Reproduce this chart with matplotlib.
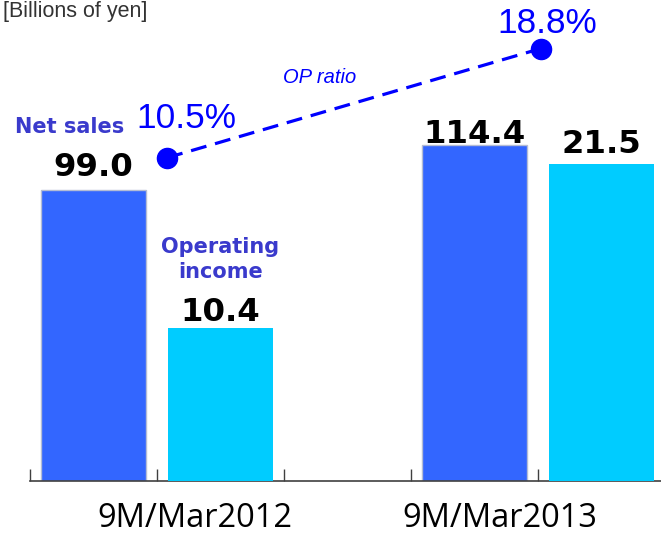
import matplotlib
matplotlib.use("Agg")
import matplotlib.pyplot as plt

# data
groups = ['9M/Mar2012', '9M/Mar2013']
net_sales = [99.0, 114.4]
op_income = [10.4, 21.5]
op_ratio = [10.5, 18.8]

W, H = 661, 537
fig = plt.figure(figsize=(W / 100, H / 100), dpi=100)

# axes box in pixels: left 30, axis line at y=481 from top, 5 slots of 127 px
ax = fig.add_axes([30 / W, (H - 481) / H, 635 / W, 481 / H])
ax2 = ax.twinx()
ax3 = ax.twinx()

# slots: net sales, op income, gap, net sales, op income
ns_x = [0, 3]
oi_x = [1, 4]
bar_w = 0.83

ax.bar(ns_x, net_sales, width=bar_w, color='#3366ff', edgecolor='#b4bcd4', linewidth=1.0, zorder=2)
ax2.bar(oi_x, op_income, width=bar_w, color='#00ccff', linewidth=0, zorder=2)

ax.set_xlim(-0.5, 4.5)
ax.set_ylim(0, 163.6)
ax2.set_ylim(0, 32.6)
ax3.set_ylim(-14.1, 22.5)

# OP ratio line sits roughly at the middle of each group
ratio_x = [0.58, 3.52]
ax3.plot(ratio_x, op_ratio, color='#0000ff', linewidth=2.3, linestyle=(0, (5, 2.8)),
         marker='o', markersize=14.5, zorder=5)

bold = dict(family='DejaVu Sans', fontweight='bold')

# value labels above bars (baseline offsets in pixels)
ns_off = [14, 2]
oi_off = [7, 11]
for x, v, o in zip(ns_x, net_sales, ns_off):
    ax.annotate(f'{v:.1f}', (x, v), xytext=(0, o), textcoords='offset pixels',
                ha='center', va='baseline', fontsize=23.3, color='black', **bold)
for x, v, o in zip(oi_x, op_income, oi_off):
    ax2.annotate(f'{v:.1f}', (x, v), xytext=(0, o), textcoords='offset pixels',
                 ha='center', va='baseline', fontsize=23.3, color='black', **bold)

# series names
ax.annotate('Net sales', (ns_x[0], net_sales[0]), xytext=(-24, 57), textcoords='offset pixels',
            ha='center', va='baseline', fontsize=15, color='#3a3acc', **bold)
ax2.annotate('Operating', (oi_x[0], op_income[0]), xytext=(0, 75), textcoords='offset pixels',
             ha='center', va='baseline', fontsize=15, color='#3a3acc', **bold)
ax2.annotate('income', (oi_x[0], op_income[0]), xytext=(0, 50), textcoords='offset pixels',
             ha='center', va='baseline', fontsize=15, color='#3a3acc', **bold)

# ratio labels
pct_off = [(19, 30), (7, 16)]
for x, v, o in zip(ratio_x, op_ratio, pct_off):
    ax3.annotate(f'{v:.1f}%', (x, v), xytext=o, textcoords='offset pixels',
                 ha='center', va='baseline', fontsize=25.4, color='#0000ff',
                 family='Liberation Sans')
ax3.annotate('OP ratio', ((ratio_x[0] + ratio_x[1]) / 2, (op_ratio[0] + op_ratio[1]) / 2),
             xytext=(-34, 20), textcoords='offset pixels', ha='center', va='baseline',
             fontsize=14.5, color='#0000ff', style='italic', family='Liberation Sans')

# category labels under the axis
label_x = [0.8, 3.2]
for x, g in zip(label_x, groups):
    ax.annotate(g, (x, 0), xytext=(0, -46), textcoords='offset pixels',
                ha='center', va='baseline', fontsize=23.5, color='black', family='Open Sans')

fig.text(3 / W, 1 - 17 / H, '[Billions of yen]', ha='left', va='baseline',
         fontsize=15.5, color='#333333', family='Liberation Sans')

# axis styling
for a in (ax, ax2, ax3):
    for s in ('top', 'left', 'right'):
        a.spines[s].set_visible(False)
    a.set_yticks([])
    a.patch.set_visible(False)
ax2.spines['bottom'].set_visible(False)
ax3.spines['bottom'].set_visible(False)
ax.spines['bottom'].set_color('#404040')
ax.spines['bottom'].set_linewidth(1.2)
ax.set_xticks([-0.5, 0.5, 1.5, 2.5, 3.5, 4.5])
ax.set_xticklabels([])
ax.tick_params(axis='x', direction='in', length=9, width=1.0, color='#404040')
ax2.tick_params(axis='x', length=0)
ax3.tick_params(axis='x', length=0)

fig.savefig('out.png', dpi=100)
